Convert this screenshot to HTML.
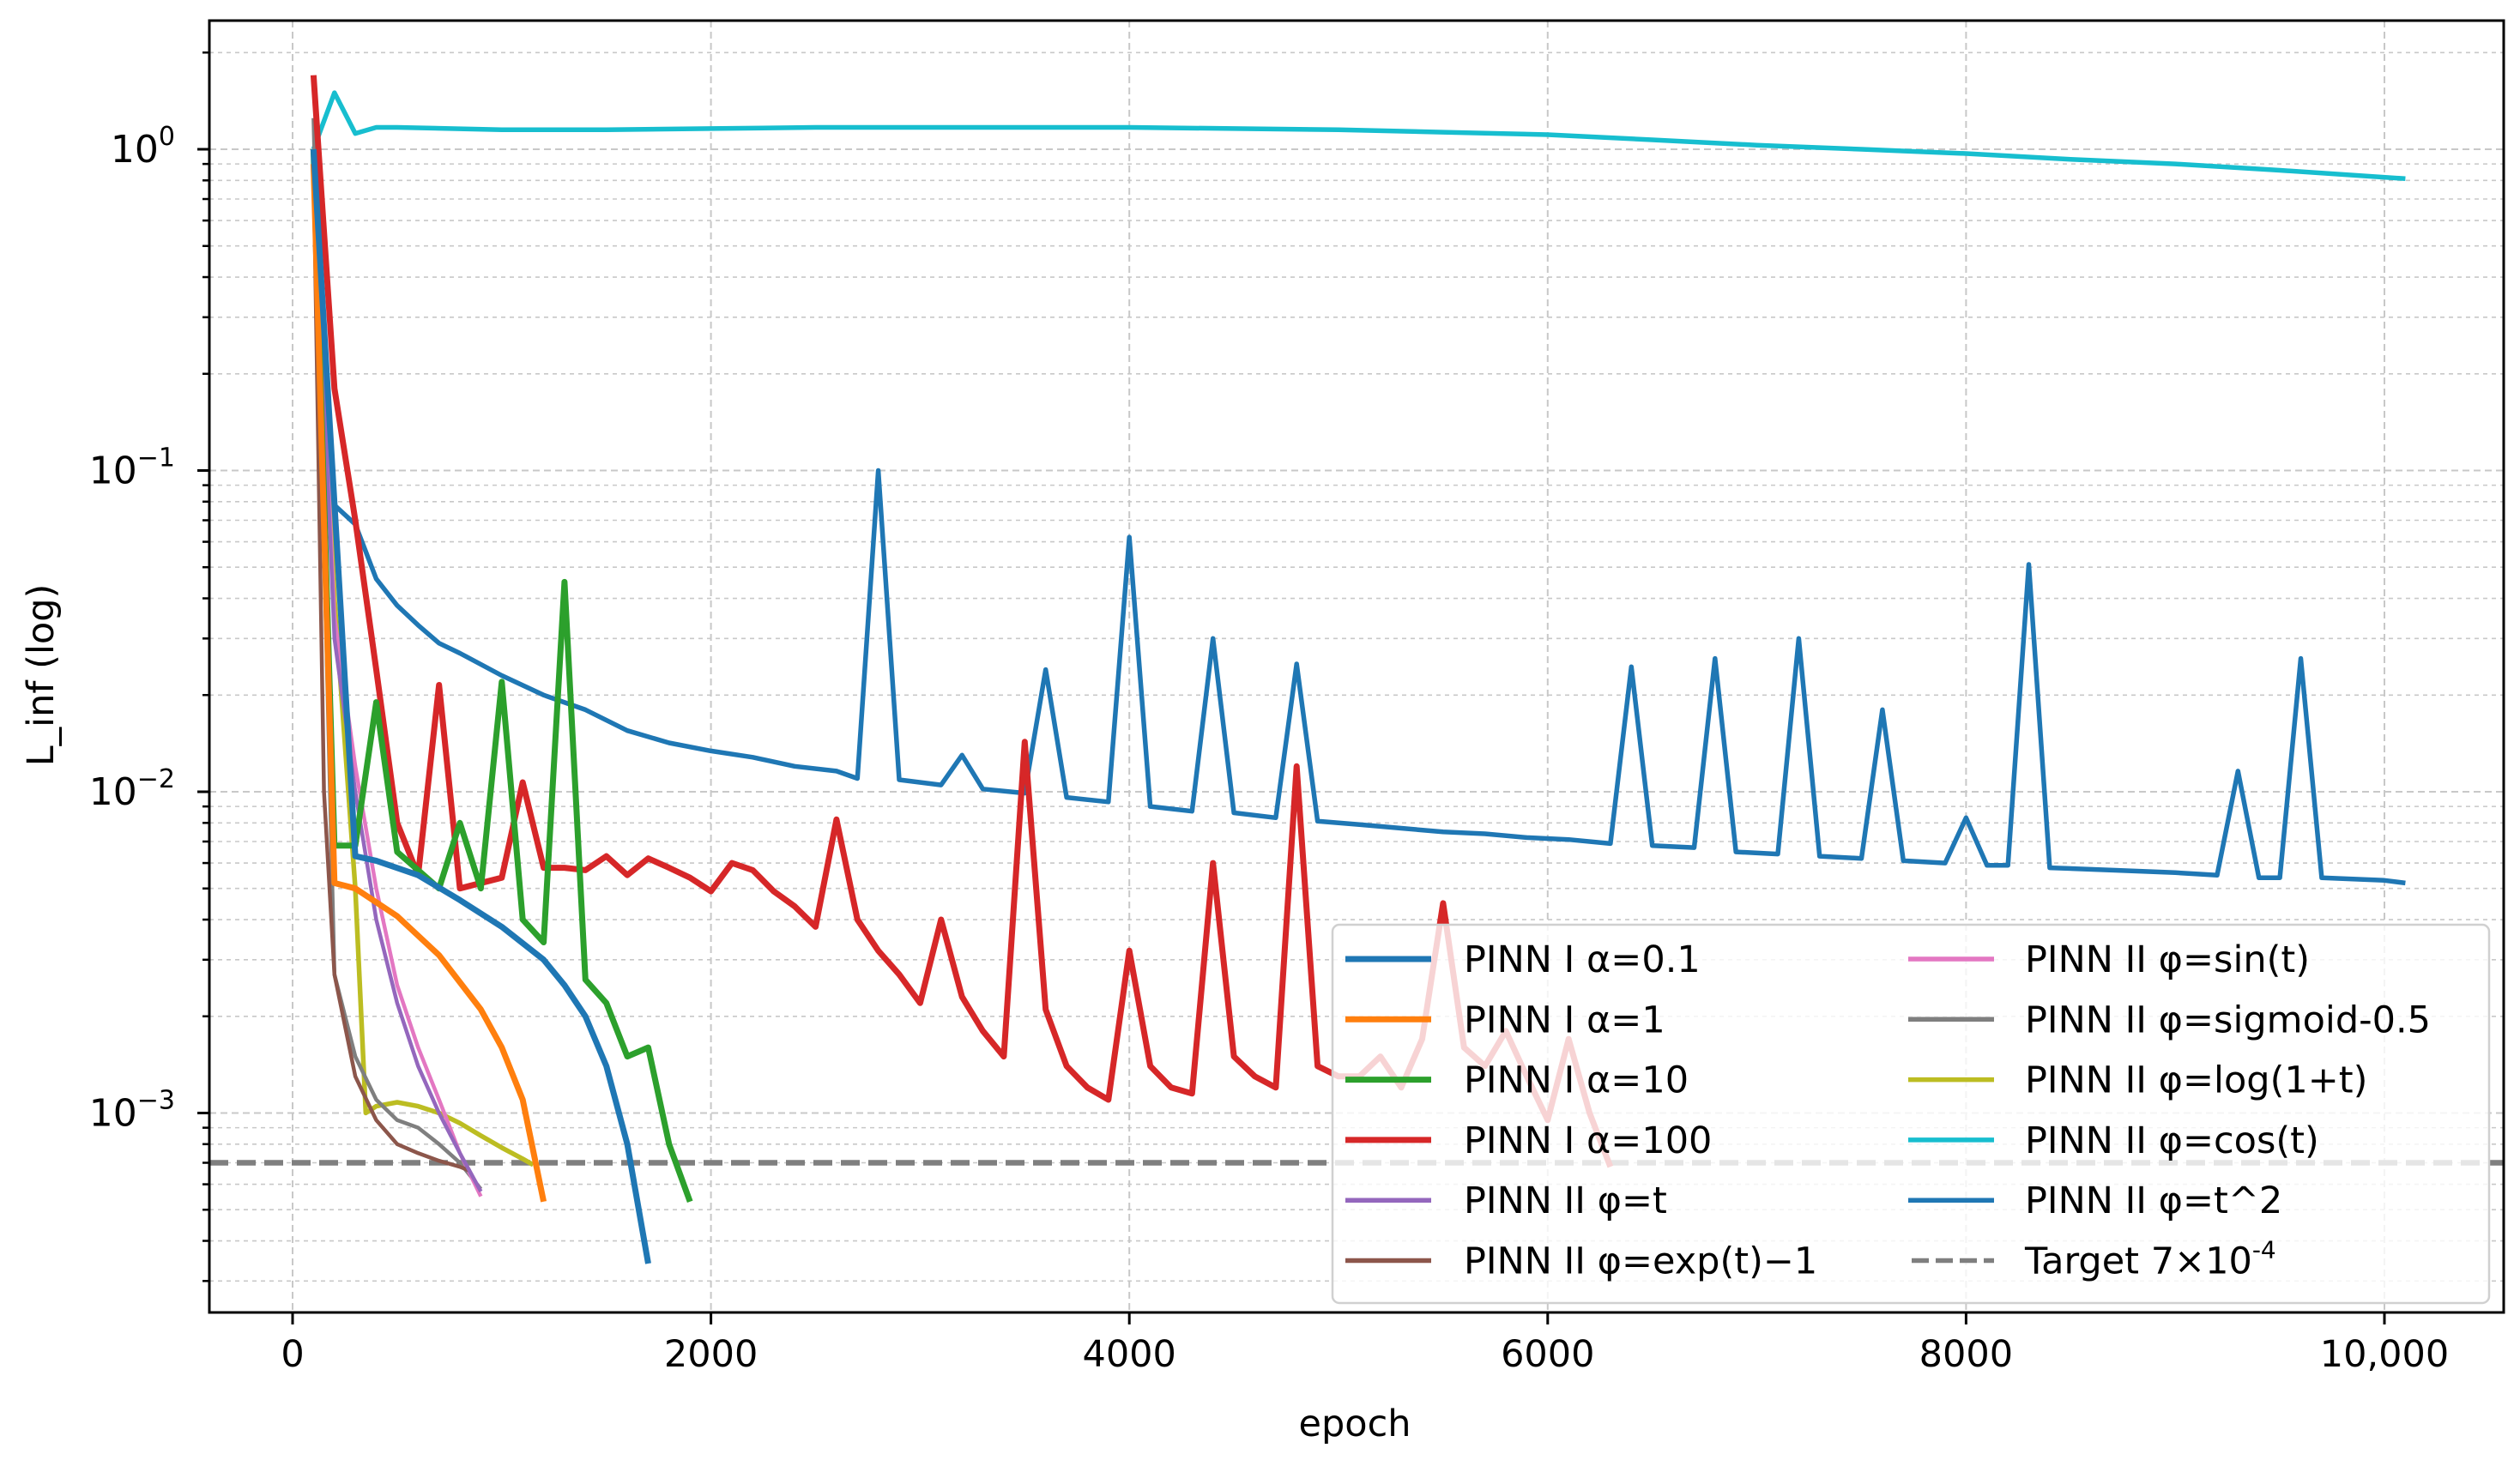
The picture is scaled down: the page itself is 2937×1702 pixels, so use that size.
<!DOCTYPE html>
<html><head><meta charset="utf-8"><style>
html,body{margin:0;padding:0;background:#fff}
svg{display:block}
text{font-family:"DejaVu Sans","Liberation Sans",sans-serif;fill:#000}
</style></head><body>
<svg id="chart" width="2937" height="1702" viewBox="0 0 2937 1702" xmlns="http://www.w3.org/2000/svg">
<g id="grid"></g>
<g id="target"></g>
<g id="series"></g>
<g id="axes"></g>
<g id="legend"></g>
</svg>
<script>
const xTicks=[0,2000,4000,6000,8000,10000];
const xTickLabels=["0","2000","4000","6000","8000","10,000"];
const yDecades=[-3,-2,-1,0];
const targetValue=7e-4;
const seriesNames=["PINN I α=0.1","PINN I α=1","PINN I α=10","PINN I α=100","PINN II φ=t","PINN II φ=exp(t)−1","PINN II φ=sin(t)","PINN II φ=sigmoid-0.5","PINN II φ=log(1+t)","PINN II φ=cos(t)","PINN II φ=t^2"];
const a01X=[100,300,400,600,800,1000,1200,1300,1400,1500,1600,1700];
const a01Y=[1.0,0.0063,0.0061,0.0055,0.0046,0.0038,0.003,0.0025,0.002,0.0014,0.0008,0.00034];
const a1X=[100,200,300,500,700,900,1000,1100,1200];
const a1Y=[0.9,0.0052,0.005,0.0041,0.0031,0.0021,0.0016,0.0011,0.00053];
const a10X=[100,200,300,400,500,600,700,800,900,1000,1100,1200,1300,1400,1500,1600,1700,1800,1900];
const a10Y=[1.0,0.0068,0.0068,0.019,0.0065,0.0057,0.005,0.008,0.005,0.022,0.004,0.0034,0.045,0.0026,0.0022,0.0015,0.0016,0.0008,0.00053];
const a100X=[100,200,300,400,500,600,700,800,1000,1100,1200,1300,1400,1500,1600,1700,1800,1900,2000,2100,2200,2300,2400,2500,2600,2700,2800,2900,3000,3100,3200,3300,3400,3500,3600,3700,3800,3900,4000,4100,4200,4300,4400,4500,4600,4700,4800,4900,5000,5100,5200,5300,5400,5500,5600,5700,5800,5900,6000,6100,6200,6300];
const a100Y=[1.7,0.18,0.07,0.024,0.008,0.0055,0.0215,0.005,0.0054,0.0107,0.0058,0.0058,0.0057,0.0063,0.0055,0.0062,0.0058,0.0054,0.0049,0.006,0.0057,0.0049,0.0044,0.0038,0.0082,0.004,0.0032,0.0027,0.0022,0.004,0.0023,0.0018,0.0015,0.0143,0.0021,0.0014,0.0012,0.0011,0.0032,0.0014,0.0012,0.00115,0.006,0.0015,0.0013,0.0012,0.012,0.0014,0.0013,0.0013,0.0015,0.0012,0.0017,0.0045,0.0016,0.0014,0.0018,0.0013,0.00095,0.0017,0.001,0.00068];
const phiTX=[100,200,300,400,500,600,700,800,900];
const phiTY=[1.0,0.03,0.01,0.004,0.0022,0.0014,0.001,0.00075,0.00057];
const expX=[100,150,200,300,400,500,600,700,800,850];
const expY=[0.9,0.01,0.0027,0.0013,0.00095,0.0008,0.00075,0.00071,0.00068,0.00066];
const sinX=[100,200,300,400,500,600,700,800,900];
const sinY=[1.0,0.035,0.012,0.005,0.0025,0.0016,0.0011,0.00075,0.00055];
const sigX=[100,200,300,400,500,600,700,800,900];
const sigY=[1.25,0.0027,0.0015,0.0011,0.00095,0.0009,0.0008,0.0007,0.00058];
const logX=[100,200,300,350,400,500,600,700,800,900,1000,1100,1150];
const logY=[1.0,0.04,0.005,0.001,0.00105,0.00108,0.00105,0.001,0.00093,0.00085,0.00078,0.00072,0.00069];
const cosX=[100,200,300,400,500,1000,1500,2000,2500,3000,3500,4000,4500,5000,5500,6000,6500,7000,7500,8000,8500,9000,9500,10100];
const cosY=[1.0,1.5,1.12,1.17,1.17,1.15,1.15,1.16,1.17,1.17,1.17,1.17,1.16,1.15,1.13,1.11,1.07,1.03,1.0,0.97,0.93,0.9,0.86,0.81];
const t2X=[100,200,300,400,500,600,700,800,1000,1200,1400,1600,1800,2000,2200,2400,2600,2700,2800,2900,3100,3200,3300,3500,3600,3700,3900,4000,4100,4300,4400,4500,4700,4800,4900,5100,5300,5500,5700,5900,6100,6300,6400,6500,6700,6800,6900,7100,7200,7300,7500,7600,7700,7900,8000,8100,8200,8300,8400,8700,9000,9200,9300,9400,9500,9600,9700,10000,10100];
const t2Y=[1.0,0.078,0.068,0.046,0.038,0.033,0.029,0.027,0.023,0.02,0.018,0.0155,0.0142,0.0134,0.0128,0.012,0.0116,0.011,0.10,0.0109,0.0105,0.013,0.0102,0.0099,0.024,0.0096,0.0093,0.062,0.009,0.0087,0.030,0.0086,0.0083,0.025,0.0081,0.0079,0.0077,0.0075,0.0074,0.0072,0.0071,0.0069,0.0245,0.0068,0.0067,0.026,0.0065,0.0064,0.030,0.0063,0.0062,0.018,0.0061,0.006,0.0083,0.0059,0.0059,0.051,0.0058,0.0057,0.0056,0.0055,0.0116,0.0054,0.0054,0.026,0.0054,0.0053,0.0052];

const L=244,R=2918,T=24,B=1530;
const X0=341,XS=0.2438;
const Y0=174,DEC=374.5;
function sx(v){return X0+v*XS;}
function sy(v){return Y0-Math.log10(v)*DEC;}
const NS="http://www.w3.org/2000/svg";
function mk(tag,attrs,parent){const e=document.createElementNS(NS,tag);for(const k in attrs)e.setAttribute(k,attrs[k]);parent.appendChild(e);return e;}
const grid=document.getElementById('grid'),axes=document.getElementById('axes'),ser=document.getElementById('series'),leg=document.getElementById('legend'),tgt=document.getElementById('target');

for(let d=-4;d<=0;d++){for(let m=1;m<=9;m++){const v=m*Math.pow(10,d);const y=sy(v);if(y<T||y>B)continue;
 const g=mk('line',{x1:L,x2:R,y1:y,y2:y,stroke:'#c8c8c8','stroke-width':m==1?2:1.6,'stroke-dasharray':m==1?'8,5':'5,5'},grid);
 
 
 const t=mk('line',{x1:L,x2:L-(m==1?14:8),y1:y,y2:y,stroke:'#000','stroke-width':m==1?3:2.5},axes);
 
 
}}
yDecades.forEach(d=>{const y=sy(Math.pow(10,d));
 const tx=mk('text',{x:204,y:y+15,'font-size':44,'text-anchor':'end'},axes);
 
 
 mk('tspan',{},tx).textContent='10';
 const sp=mk('tspan',{dy:-20,'font-size':30},tx);sp.textContent=d==0?'0':'−'+(-d);
});
xTicks.forEach((v,i)=>{const x=sx(v);
 const g=mk('line',{x1:x,x2:x,y1:T,y2:B,stroke:'#c8c8c8','stroke-width':2,'stroke-dasharray':'8,5'},grid);
 
 
 const t=mk('line',{x1:x,x2:x,y1:B,y2:B+14,stroke:'#000','stroke-width':3},axes);
 
 
 const tx=mk('text',{x:x,y:1593,'font-size':43,'text-anchor':'middle'},axes);
 
 
 tx.textContent=xTickLabels[i];
});
const ty=sy(targetValue);
const tl=mk('line',{x1:L,x2:R,y1:ty,y2:ty,stroke:'#7f7f7f','stroke-width':6.5,'stroke-dasharray':'22,10'},tgt);



const specs=[
 [a01X,a01Y,'#1f77b4',7],[a1X,a1Y,'#ff7f0e',7],[a10X,a10Y,'#2ca02c',7],[a100X,a100Y,'#d62728',7],
 [phiTX,phiTY,'#9467bd',4.5],[expX,expY,'#8c564b',4.5],[sinX,sinY,'#e377c2',4.5],[sigX,sigY,'#7f7f7f',4.5],
 [logX,logY,'#bcbd22',5.5],[cosX,cosY,'#17becf',5.5],[t2X,t2Y,'#1f77b4',5.5]];
const drawOrder=[10,9,8,7,6,5,4,3,2,1,0];
drawOrder.forEach(i=>{const [xs,ys,c,w]=specs[i];
 const d=xs.map((x,j)=>(j?'L':'M')+sx(x).toFixed(1)+','+sy(ys[j]).toFixed(1)).join('');
 const p=mk('path',{d:d,fill:'none',stroke:c,'stroke-width':w,'stroke-linejoin':'round'},ser);
 
 
});
const fr=mk('rect',{x:L,y:T,width:R-L,height:B-T,fill:'none',stroke:'#000','stroke-width':3},axes);


const yl=mk('text',{x:0,y:0,'font-size':43,'text-anchor':'middle',transform:'translate(62,787) rotate(-90)'},axes);


yl.textContent='L_inf (log)';
const xl=mk('text',{x:1579,y:1674,'font-size':43,'text-anchor':'middle'},axes);


xl.textContent='epoch';
const lb=mk('rect',{x:1553,y:1078,width:1348,height:441,rx:8,fill:'#fff','fill-opacity':0.8,stroke:'#d0d0d0','stroke-width':2.5},leg);


const entries=[0,1,2,3,4,5,6,7,8,9,10,-1];
entries.forEach((si,k)=>{const col=k<6?0:1,row=k%6;
 const lx=col?2224:1568,tx=col?2360:1706,y=1118+row*70.3;
 const g=mk('g',{},leg);
 
 
 if(si>=0){mk('line',{x1:lx,x2:lx+100,y1:y,y2:y,stroke:specs[si][2],'stroke-width':si<4?7:5.5},g);
  const t=mk('text',{x:tx,y:y+15,'font-size':43},g);t.textContent=seriesNames[si];}
 else{mk('line',{x1:lx+4,x2:lx+100,y1:y,y2:y,stroke:'#7f7f7f','stroke-width':5.5,'stroke-dasharray':'20,8'},g);
  const t=mk('text',{x:tx,y:y+15,'font-size':43},g);t.textContent='Target  7×10';
  const s=mk('tspan',{dy:-18,'font-size':28},t);s.textContent='-4';}
});
</script>
</body></html>
